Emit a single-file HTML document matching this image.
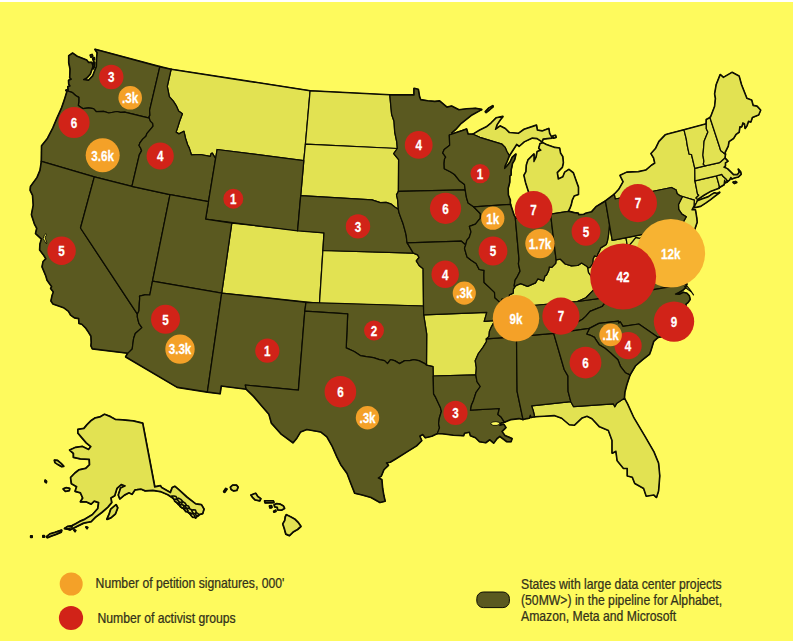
<!DOCTYPE html>
<html><head><meta charset="utf-8"><title>Map</title>
<style>
html,body{margin:0;padding:0;background:#fff;}
body{width:793px;height:641px;overflow:hidden;position:relative;font-family:"Liberation Sans",sans-serif;}
#bg{position:absolute;left:0;top:2px;width:793px;height:639px;background:#FEFA5D;}
svg{position:absolute;left:0;top:0;}
.n{font-family:"Liberation Sans",sans-serif;font-weight:bold;fill:#fff;stroke:#fff;stroke-width:0.25px;}
.lt{font-family:"Liberation Sans",sans-serif;font-size:13.8px;fill:#33311a;stroke:#33311a;stroke-width:0.25px;}
</style></head><body>
<div id="bg"></div>
<svg width="793" height="641" viewBox="0 0 793 641">
<g fill="#0c0c02" stroke="#0c0c02" stroke-width="2.0" stroke-linejoin="round">
<path d="M215.6,158.6L212.3,153.2L211.1,153.7L210.3,156.4L200.4,154.5L191.4,154.8L189.2,147.9L187.6,144.8L185.6,138.5L183.9,131.2L178.9,133.9L176.1,132.1L177.8,127.1L179.6,121.2L182.4,113.7L178.6,111.1L176.5,106.2L173.3,101.1L169.3,96.6L167.3,86.4L171.1,69.4L310.1,90.9L305.4,144.2L303.8,160.6L217.1,149.5Z"/>
<path d="M231.8,223.2L324.0,232.9L319.5,303.4L221.7,293.1Z"/>
<path d="M310.1,90.9L389.8,95.0L390.6,103.7L391.6,114.2L394.0,121.2L394.7,132.0L396.8,142.2L397.3,148.5L305.4,144.2Z"/>
<path d="M305.4,144.2L397.3,148.5L393.7,153.6L398.6,159.7L398.4,191.4L396.5,194.9L397.7,200.2L398.3,209.2L395.1,207.2L391.3,204.2L386.1,202.4L380.3,202.6L372.0,199.8L300.7,195.7L303.8,160.6Z"/>
<path d="M322.9,250.5L413.4,253.2L417.6,254.9L419.0,257.5L416.3,260.9L419.1,265.5L423.1,268.8L423.5,306.0L319.5,303.4Z"/>
<path d="M423.7,314.9L486.8,312.4L484.2,321.4L493.7,320.7L493.8,322.5L491.3,327.1L489.4,331.6L489.0,336.4L486.3,338.9L486.5,341.5L482.8,347.6L478.4,353.5L475.2,360.7L476.3,367.7L475.8,374.8L433.2,376.0L433.0,366.7L426.5,365.2L426.7,334.2Z"/>
<path d="M500.5,302.9L502.0,298.9L505.9,299.5L509.1,300.1L509.4,294.8L513.2,293.2L513.4,289.1L514.6,287.2L516.3,285.3L520.7,283.7L527.5,286.4L535.5,282.9L537.9,278.8L543.6,280.8L545.0,275.8L546.5,275.1L548.7,270.4L549.3,267.0L551.8,267.4L555.7,263.4L556.1,259.8L560.4,259.2L565.2,264.0L571.4,265.8L577.8,265.5L581.6,263.0L587.1,266.6L587.9,267.9L588.5,272.3L591.7,276.8L593.9,279.9L598.8,281.7L596.1,287.4L591.2,292.4L585.9,297.7L577.5,301.5L515.8,307.0L516.3,310.1L495.5,311.8L498.6,309.8Z"/>
<path d="M609.5,224.4L612.2,240.4L626.0,238.0L627.6,247.1L632.6,241.3L635.8,237.4L640.3,238.4L643.4,235.1L648.1,235.9L650.7,240.4L650.0,244.0L642.0,239.8L637.3,253.0L633.4,258.9L627.4,258.4L626.3,264.0L621.9,278.6L614.5,281.3L609.7,284.7L603.7,287.0L598.8,281.7L593.9,279.9L591.7,276.8L588.5,272.3L587.9,267.9L587.9,267.9L589.9,267.3L592.8,263.6L593.0,259.3L594.4,255.9L597.7,256.6L597.6,254.3L599.6,250.6L600.7,247.9L606.3,244.5L607.5,240.7L608.5,234.8L609.0,229.5Z"/>
<path d="M534.6,416.6L544.1,416.1L554.2,415.4L561.8,418.1L569.4,424.6L574.4,425.0L582.0,417.8L587.0,416.1L592.1,418.6L599.6,426.7L608.5,430.4L612.2,440.5L612.2,453.1L616.0,451.1L617.3,460.7L623.6,468.3L627.4,468.3L627.4,475.8L632.4,477.1L634.9,483.4L643.8,488.4L646.3,496.0L653.8,494.8L656.4,497.3L658.4,491.0L659.6,475.8L658.4,463.2L653.8,451.9L645.0,436.7L633.7,417.8L627.4,404.0L624.3,398.3L616.5,403.6L614.8,406.8L613.3,403.8L573.6,406.7L570.8,401.7L531.6,405.9L533.2,410.5Z"/>
<path d="M524.3,216.1L527.9,209.7L530.1,204.1L530.5,197.5L528.0,189.6L525.7,182.4L524.1,175.3L526.1,171.7L526.5,165.0L528.1,160.0L533.9,154.1L533.9,161.7L536.2,157.3L537.3,151.6L541.0,150.2L538.9,148.2L540.2,143.6L542.8,142.8L546.3,144.6L554.8,147.6L559.5,148.2L560.4,153.2L562.6,156.6L563.2,162.7L562.2,167.3L557.1,172.5L558.2,179.1L562.9,177.0L564.8,172.3L568.9,169.6L573.2,172.9L575.9,180.5L578.3,187.2L578.3,194.4L574.0,195.9L572.0,200.3L571.2,204.3L569.8,208.1L568.2,211.3L550.6,214.2Z"/>
<path d="M473.0,134.3L479.8,130.2L486.4,127.0L491.3,122.9L496.2,118.0L502.8,116.6L500.3,119.6L497.0,124.5L495.4,129.4L500.3,126.1L505.2,128.6L509.3,132.7L518.4,133.5L524.1,129.4L536.4,125.3L537.2,130.2L542.1,131.1L548.7,128.6L549.5,133.5L552.0,137.9L543.0,138.9L542.1,141.7L537.2,138.4L532.3,137.9L524.1,141.7L519.2,146.1L516.7,144.2L513.0,149.9L509.3,155.6L506.9,151.5L505.2,147.4L502.0,144.2L491.3,140.9L479.8,137.3Z"/>
<path d="M615.2,199.0L614.3,194.4L618.9,189.4L623.3,181.7L620.2,175.5L626.8,172.3L638.4,171.8L645.9,170.2L651.5,165.4L654.9,163.2L653.8,158.1L651.1,153.6L655.6,148.6L659.1,141.5L665.3,135.0L667.7,134.1L684.0,129.9L686.2,138.6L687.3,145.6L689.1,154.2L691.5,154.5L694.8,168.3L694.9,181.0L697.5,194.0L698.8,195.3L696.0,198.0L697.5,199.4L696.4,203.3L694.0,205.7L694.3,200.2L682.5,196.5L679.6,195.6L677.0,193.5L676.2,190.0L671.5,187.5Z"/>
<path d="M694.9,205.7L697.4,200.9L702.5,198.9L708.5,196.8L712.1,194.3L714.6,192.9L717.1,193.6L719.6,192.4L714.6,196.3L710.5,199.4L705.5,202.9L700.5,206.2L694.4,207.6Z"/>
<path d="M733.2,182.2L735.4,181.6L736.6,182.4L734.4,183.4Z"/>
<path d="M682.5,196.5L694.3,200.2L694.0,205.7L691.9,209.9L695.3,210.0L696.6,217.8L697.0,222.3L694.4,230.0L689.4,239.0L686.7,234.7L681.1,231.5L678.5,229.4L679.4,225.5L682.8,222.9L686.3,216.7L681.9,214.1L678.7,209.4L678.5,204.5Z"/>
<path d="M674.9,228.0L679.4,225.5L678.5,229.4L681.7,234.1L687.6,241.8L689.7,247.6L681.0,249.5Z"/>
<path d="M626.0,238.0L674.9,228.0L681.0,249.5L689.7,247.6L688.8,255.5L683.6,258.1L679.6,252.7L673.7,248.6L673.5,241.4L673.1,233.3L670.9,235.6L668.5,240.7L669.3,247.7L672.2,254.3L675.9,260.9L665.8,257.5L660.5,255.9L661.5,250.3L661.7,247.5L659.0,245.0L654.4,243.3L650.7,240.4L648.1,235.9L643.4,235.1L640.3,238.4L635.8,237.4L632.6,241.3L627.6,247.1Z"/>
<path d="M695.0,180.9L716.5,175.8L719.4,186.4L719.0,188.0L711.0,191.0L703.9,195.1L697.5,199.4L696.0,198.0L698.8,195.3L697.5,194.0Z"/>
<path d="M716.5,175.8L721.8,174.4L723.0,176.3L726.6,179.5L727.2,181.6L725.6,182.6L724.6,180.2L724.0,184.6L719.0,187.6L719.4,186.4Z"/>
<path d="M694.8,168.3L705.1,165.9L719.6,162.6L720.7,161.7L724.8,158.0L727.8,161.2L725.3,162.7L725.3,165.7L723.8,167.2L727.3,168.8L730.4,171.8L733.4,174.8L737.4,174.8L739.4,172.3L738.4,169.3L740.5,171.8L741.0,174.3L738.4,176.8L734.4,177.8L731.9,178.9L730.9,177.3L729.4,179.9L727.2,181.6L726.6,179.5L723.0,176.3L721.8,174.4L716.5,175.8L695.0,180.9Z"/>
<path d="M684.0,129.9L706.3,124.0L706.3,128.8L707.9,132.0L704.1,141.2L703.6,147.7L702.9,155.2L703.9,161.3L703.3,164.2L705.1,165.9L694.8,168.3L691.5,154.5L689.1,154.2L687.3,145.6L686.2,138.6Z"/>
<path d="M706.3,124.0L706.4,119.6L710.0,117.7L719.5,146.7L720.6,150.4L725.3,154.2L724.8,158.0L720.7,161.7L719.6,162.6L705.1,165.9L703.3,164.2L703.9,161.3L702.9,155.2L703.6,147.7L704.1,141.2L707.9,132.0L706.3,128.8Z"/>
<path d="M725.3,154.2L720.6,150.4L719.5,146.7L710.0,117.7L710.9,116.5L714.8,106.3L715.6,98.5L714.8,93.9L716.4,84.5L720.3,74.7L723.4,77.5L732.0,72.5L739.0,76.2L741.3,84.5L746.8,98.5L751.5,100.1L753.0,105.6L756.9,106.3L760.5,110.2L758.5,114.9L752.3,117.3L750.7,121.9L748.4,121.2L746.8,125.8L745.2,128.2L744.6,123.8L742.9,122.7L741.6,126.8L739.8,126.6L739.0,132.1L736.0,134.2L733.5,138.3L728.9,141.4L728.1,146.1L725.0,152.4Z"/>
<path d="M142.6,423.2L154.7,487.0L160.4,485.8L161.6,487.7L170.4,492.7L172.3,487.7L174.9,486.4L179.3,490.2L186.8,497.1L195.7,504.0L201.3,504.7L203.9,509.1L202.6,513.5L198.2,514.8L195.7,517.9L190.6,514.1L184.3,509.1L178.0,504.0L173.6,498.4L167.9,494.6L160.4,491.4L152.8,490.2L145.2,490.8L140.8,488.9L137.0,489.5L135.0,489.7L132.0,494.2L129.0,492.7L124.4,495.0L119.9,498.8L118.4,495.0L120.6,488.2L125.2,485.9L121.4,484.4L116.9,488.2L114.6,495.7L110.8,498.0L111.6,502.5L107.8,507.1L101.7,512.4L95.7,516.9L91.1,521.5L83.6,523.0L77.5,526.0L69.9,529.8L65.4,528.3L69.9,526.8L74.5,524.5L79.8,521.5L85.1,519.2L92.6,514.6L97.9,508.6L98.7,502.5L94.2,501.0L91.1,504.0L86.6,501.8L80.5,501.8L82.8,498.0L80.5,492.7L75.2,491.2L76.7,486.6L71.5,483.6L70.7,477.6L75.0,473.1L78.8,470.1L85.6,468.6L89.6,464.8L89.3,459.2L80.3,458.7L73.5,457.2L73.5,453.4L69.7,450.1L75.7,447.4L82.5,446.6L88.6,449.6L90.9,446.6L86.3,442.8L81.8,437.5L78.0,433.0L78.0,429.5L84.0,428.5L87.1,424.7L90.9,420.9L95.4,417.9L99.9,417.1L104.5,414.4L110.5,416.8L115.1,419.4L122.6,420.1L133.2,420.9Z"/>
<path d="M107.0,519.2L109.3,513.9L110.8,509.3L116.1,504.8L117.6,507.8L115.3,513.9L110.8,517.7Z"/>
<path d="M54.5,460.2L57.5,460.6L61.0,463.5L63.6,466.3L61.5,466.5L58.0,464.5L55.0,462.5Z"/>
<path d="M63.3,489.0L66.0,487.8L69.6,488.6L69.2,490.6L65.5,491.2Z"/>
<path d="M64.6,528.6L68.0,526.4L72.2,526.0L72.0,527.6L68.0,528.8Z"/>
<path d="M46.5,536.8L50.0,534.0L55.0,532.5L61.6,530.3L61.2,532.0L56.0,534.3L51.0,536.0L47.5,537.6Z"/>
<path d="M43.0,535.8L44.2,535.8L44.2,537.0L43.0,537.0Z"/>
<path d="M30.8,536.0L32.0,536.0L32.0,537.2L30.8,537.2Z"/>
<path d="M45.2,480.3L46.4,481.3L46.2,482.6L45.0,481.6Z"/>
<path d="M74.0,530.0L75.6,530.4L75.0,531.4Z"/>
<path d="M86.0,527.0L87.6,527.4L87.0,528.4Z"/>
<path d="M286.4,514.8L290.5,516.8L295.0,519.4L298.0,522.4L300.8,526.4L297.5,529.4L293.0,532.0L289.4,535.5L285.9,534.0L284.4,528.4L282.9,523.9L284.9,520.4L285.4,516.8Z"/>
<path d="M274.3,504.7L276.8,503.7L279.9,504.2L283.4,506.2L284.4,508.3L281.4,510.1L277.8,509.8L277.3,507.2L274.8,506.7Z"/>
<path d="M251.1,495.1L255.6,493.4L257.7,496.6L260.7,498.7L259.7,500.7L255.1,499.7L252.6,497.2Z"/>
<path d="M264.7,501.0L273.3,501.0L273.8,502.4L265.2,502.7Z"/>
<path d="M269.6,506.0L271.4,505.8L271.8,507.4L270.0,507.8Z"/>
<path d="M273.8,511.4L275.6,510.4L275.8,511.4L274.0,512.0Z"/>
<path d="M230.5,487.2L232.7,485.2L236.4,485.2L238.0,487.2L236.7,490.3L233.7,490.8L231.2,489.3Z"/>
<path d="M223.8,491.6L225.8,488.6L226.8,489.2L224.6,492.2Z"/>
<path d="M485.4,111.6L489.0,108.0L492.8,105.8L493.0,106.8L489.6,109.6L486.0,112.4Z"/>
<path d="M553.0,136.0L555.4,135.4L556.0,137.4L553.6,138.0Z"/>
<path d="M176.7,499.9L174.8,500.0L173.1,498.1L171.8,496.0L173.9,496.1L176.1,496.6L177.2,498.6Z"/>
<path d="M179.7,503.8L177.3,502.7L174.8,501.2L174.7,499.7L175.7,499.0L178.1,500.3L179.4,502.2Z"/>
<path d="M181.5,502.0L179.8,502.4L178.1,500.4L177.2,498.6L178.6,498.1L180.8,499.4L182.7,501.3Z"/>
<path d="M185.9,506.2L183.8,505.6L181.6,504.4L182.0,502.9L182.8,501.7L185.0,503.0L186.2,504.7Z"/>
<path d="M184.2,508.4L182.1,507.8L180.3,506.4L179.6,504.7L181.2,504.6L183.3,505.2L184.0,506.9Z"/>
<path d="M188.9,508.8L187.2,509.0L185.8,507.3L184.8,505.6L186.6,505.5L188.4,505.9L189.4,507.7Z"/>
<path d="M192.8,514.1L189.8,512.8L186.7,511.0L186.8,509.0L188.0,508.0L191.1,509.5L192.7,511.9Z"/>
<path d="M195.8,513.4L193.8,513.4L192.4,511.9L191.6,510.0L193.5,509.8L195.5,510.0L196.1,511.9Z"/>
<path d="M194.2,516.9L192.8,517.2L191.2,515.4L190.2,513.7L191.7,513.4L193.6,514.4L195.2,516.2Z"/>
<path d="M187.2,511.1L186.0,511.5L184.8,510.1L184.3,508.8L185.4,508.3L186.9,509.1L188.1,510.4Z"/>
<path d="M198.3,515.7L196.9,515.6L195.5,514.7L195.8,513.5L196.5,512.5L197.9,513.5L198.9,514.7Z"/>
<path d="M66.2,90.3L68.3,91.1L68.0,86.7L70.2,86.0L68.9,84.1L68.7,80.4L71.4,79.1L69.9,77.8L70.2,69.0L68.9,62.7L68.9,55.8L72.7,53.2L77.1,56.4L86.6,60.2L88.5,62.6L91.6,62.4L93.0,66.0L91.6,70.0L90.2,74.0L86.8,77.8L83.6,79.6L88.6,80.4L92.8,76.0L94.8,70.8L96.5,66.5L96.6,62.0L96.8,57.7L97.3,52.6L95.1,49.4L159.8,66.8L149.6,110.4L150.0,115.2L149.1,116.6L149.3,118.1L124.7,112.1L120.6,112.3L117.0,111.5L108.9,113.0L103.6,111.3L96.4,111.7L93.5,108.6L88.5,107.9L83.1,108.7L78.3,105.5L78.8,101.6L78.8,97.4L75.6,95.5L72.6,92.7L66.2,90.3Z"/>
<path d="M41.5,161.3L41.6,153.0L41.7,145.8L47.7,138.3L53.0,128.0L57.1,118.2L61.5,108.5L64.4,100.2L67.0,91.9L66.2,90.3L72.6,92.7L75.6,95.5L78.8,97.4L78.8,101.6L78.3,105.5L83.1,108.7L88.5,107.9L93.5,108.6L96.4,111.7L103.6,111.3L108.9,113.0L117.0,111.5L120.6,112.3L124.7,112.1L149.3,118.1L150.4,121.1L152.7,123.4L153.1,126.2L149.6,130.4L146.8,133.7L145.9,136.2L142.7,139.1L139.9,142.9L139.0,145.5L140.6,148.0L141.6,150.6L139.3,154.9L131.9,186.3L94.3,176.8Z"/>
<path d="M41.5,161.3L40.2,170.2L37.2,177.5L30.6,186.7L30.3,190.2L32.7,195.2L33.4,205.1L31.6,214.7L34.6,224.0L36.9,228.3L35.7,233.5L41.6,239.0L40.1,244.1L39.8,249.9L44.0,255.4L46.0,258.7L43.2,261.6L42.2,266.8L46.1,276.2L47.2,280.2L51.8,286.6L50.8,288.5L53.5,292.0L52.3,295.3L51.1,300.9L53.0,303.8L63.6,307.5L68.6,311.2L70.7,314.9L74.5,317.7L78.8,318.4L79.1,323.4L81.9,324.1L85.6,327.7L87.8,330.8L91.1,336.2L91.4,342.6L91.1,345.8L92.4,348.7L128.0,353.1L132.2,349.0L133.6,338.5L135.3,333.5L141.9,327.6L138.9,323.4L137.3,316.8L137.4,314.1L80.5,228.0L94.3,176.8Z"/>
<path d="M94.3,176.8L80.5,228.0L137.4,314.1L139.0,310.8L139.3,303.7L139.7,298.4L139.5,296.2L144.7,294.9L149.8,295.0L152.5,281.2L170.0,194.6L131.9,186.3Z"/>
<path d="M159.8,66.8L171.1,69.4L167.3,86.4L169.3,96.6L173.3,101.1L176.5,106.2L178.6,111.1L182.4,113.7L179.6,121.2L177.8,127.1L176.1,132.1L178.9,133.9L183.9,131.2L185.6,138.5L187.6,144.8L189.2,147.9L191.4,154.8L200.4,154.5L210.3,156.4L211.1,153.7L212.3,153.2L215.6,158.6L208.5,201.7L170.0,194.6L131.9,186.3L139.3,154.9L141.6,150.6L140.6,148.0L139.0,145.5L139.9,142.9L142.7,139.1L145.9,136.2L146.8,133.7L149.6,130.4L153.1,126.2L152.7,123.4L150.4,121.1L149.3,118.1L149.1,116.6L150.0,115.2L149.6,110.4Z"/>
<path d="M217.1,149.5L303.8,160.6L297.6,230.8L205.6,219.1Z"/>
<path d="M170.0,194.6L208.5,201.7L205.6,219.1L231.8,223.2L221.7,293.1L152.5,281.2Z"/>
<path d="M152.5,281.2L221.7,293.1L207.4,391.9L177.3,387.2L125.8,356.8L128.0,353.1L132.2,349.0L133.6,338.5L135.3,333.5L141.9,327.6L138.9,323.4L137.3,316.8L137.4,314.1L139.0,310.8L139.3,303.7L139.7,298.4L139.5,296.2L144.7,294.9L149.8,295.0Z"/>
<path d="M221.7,293.1L306.0,302.4L304.8,311.2L298.4,390.1L245.3,385.0L246.2,389.0L221.1,385.8L220.0,393.6L207.4,391.9Z"/>
<path d="M300.7,195.7L372.0,199.8L380.3,202.6L386.1,202.4L391.3,204.2L395.1,207.2L398.3,209.2L399.0,212.6L400.9,217.9L402.9,223.2L405.1,230.9L406.2,235.5L406.8,240.8L407.2,242.9L410.2,247.9L413.4,253.2L322.9,250.5L324.0,232.9L297.6,230.8Z"/>
<path d="M306.0,302.4L423.5,306.0L423.7,314.9L426.7,334.2L426.5,365.2L424.8,363.6L418.8,360.6L413.7,359.6L409.7,360.6L404.7,360.6L399.6,363.6L394.6,360.6L390.5,359.6L387.5,363.6L384.5,360.6L379.4,359.6L373.4,357.6L366.3,356.6L360.3,355.6L354.2,351.5L346.2,347.9L347.7,313.8L304.8,311.2Z"/>
<path d="M304.8,311.2L347.7,313.8L346.2,347.9L354.2,351.5L360.3,355.6L366.3,356.6L373.4,357.6L379.4,359.6L384.5,360.6L387.5,363.6L390.5,359.6L394.6,360.6L399.6,363.6L404.7,360.6L409.7,360.6L413.7,359.6L418.8,360.6L424.8,363.6L426.5,365.2L433.0,366.7L433.2,376.0L433.6,393.9L435.7,397.4L440.5,407.8L441.4,411.3L439.3,418.3L438.6,423.6L439.5,427.9L437.4,433.4L431.7,436.1L425.4,437.6L422.8,434.3L419.6,436.1L421.6,440.6L416.5,445.7L406.5,452.0L396.4,458.3L390.1,462.1L386.3,462.8L388.3,465.3L383.8,469.6L381.2,475.9L378.2,477.9L381.7,479.7L382.5,488.5L383.8,496.1L385.0,501.1L380.0,502.4L371.1,497.4L362.3,494.8L354.8,493.1L351.0,483.5L347.2,473.4L340.9,464.6L337.1,457.0L332.1,445.7L327.0,436.8L320.7,431.8L306.8,429.3L300.5,431.8L296.7,438.1L293.0,442.6L281.6,434.3L271.5,423.0L269.0,414.1L261.4,405.3L253.9,396.5L246.2,389.0L245.3,385.0L298.4,390.1Z"/>
<path d="M389.8,95.0L414.1,95.1L414.1,88.5L418.2,89.5L419.4,96.7L420.6,99.8L427.7,100.9L434.8,101.6L439.5,101.1L446.9,107.3L451.6,106.2L458.9,109.9L466.6,109.0L475.5,108.4L481.6,109.6L480.3,110.2L471.9,114.8L461.2,123.2L456.5,128.4L451.5,133.0L452.5,134.0L449.3,135.0L449.7,145.3L444.2,149.4L442.7,152.9L445.7,157.2L444.5,159.0L444.1,163.4L444.3,168.7L450.7,172.0L454.5,174.5L459.2,180.4L464.5,184.6L465.2,189.8L398.4,191.4L398.6,159.7L393.7,153.6L397.3,148.5L396.8,142.2L394.7,132.0L394.0,121.2L391.6,114.2L390.6,103.7Z"/>
<path d="M398.4,191.4L465.2,189.8L465.6,192.4L466.5,197.7L468.1,202.9L473.6,206.8L480.4,213.7L480.3,218.3L478.9,219.9L475.4,224.2L469.4,226.3L471.0,231.9L469.3,237.3L466.8,240.4L465.7,244.9L461.1,241.1L407.2,242.9L406.8,240.8L406.2,235.5L405.1,230.9L402.9,223.2L400.9,217.9L399.0,212.6L398.3,209.2L397.7,200.2L396.5,194.9Z"/>
<path d="M407.2,242.9L461.1,241.1L465.7,244.9L464.5,248.2L465.8,252.9L467.0,256.9L471.2,260.2L476.1,263.5L479.2,269.5L484.1,270.4L483.9,274.9L484.1,282.5L489.3,287.4L494.5,292.4L494.9,297.7L500.5,302.9L498.6,309.8L495.5,311.8L494.8,315.4L493.7,320.7L484.2,321.4L486.8,312.4L423.7,314.9L423.5,306.0L423.1,268.8L419.1,265.5L416.3,260.9L419.0,257.5L417.6,254.9L413.4,253.2L410.2,247.9L407.2,242.9Z"/>
<path d="M433.2,376.0L475.8,374.8L477.0,381.7L480.3,386.5L476.1,392.3L473.5,400.4L471.5,404.9L470.5,410.2L499.3,408.5L497.9,414.4L501.1,417.1L504.4,422.1L500.8,422.9L499.8,425.5L503.8,424.5L505.8,427.5L501.8,431.5L504.8,435.6L511.9,438.6L510.9,441.6L506.9,441.6L499.8,436.2L496.8,438.6L493.7,443.0L489.7,439.6L485.7,442.6L479.6,441.6L475.6,437.6L470.5,435.6L469.5,432.1L464.5,433.0L463.5,435.6L453.4,435.0L442.3,433.6L437.4,433.4L439.5,427.9L438.6,423.6L439.3,418.3L441.4,411.3L440.5,407.8L435.7,397.4L433.6,393.9L433.2,376.0Z"/>
<path d="M486.3,338.9L516.5,336.7L517.1,391.3L523.0,419.4L519.0,418.4L510.9,419.4L504.4,422.1L501.1,417.1L497.9,414.4L499.3,408.5L470.5,410.2L471.5,404.9L473.5,400.4L476.1,392.3L480.3,386.5L477.0,381.7L475.8,374.8L476.3,367.7L475.2,360.7L478.4,353.5L482.8,347.6L486.5,341.5Z"/>
<path d="M516.5,336.7L553.7,333.3L564.2,369.5L568.0,376.1L568.0,384.4L568.1,391.4L570.8,401.7L531.6,405.9L533.2,410.5L534.6,416.6L531.1,417.4L530.3,415.2L529.3,418.0L527.0,418.4L523.0,419.4L517.1,391.3Z"/>
<path d="M493.7,320.7L494.8,315.4L495.5,311.8L516.3,310.1L515.8,307.0L577.5,301.5L605.4,297.6L605.8,301.8L602.2,306.5L596.8,308.6L590.0,311.4L585.7,316.4L582.5,319.2L575.8,323.1L575.3,325.5L572.1,330.9L553.7,333.3L516.5,336.7L486.3,338.9L489.0,336.4L489.4,331.6L491.3,327.1L493.8,322.5Z"/>
<path d="M452.5,134.0L462.3,130.7L466.5,129.1L468.0,134.2L473.0,134.3L479.8,137.3L491.3,140.9L502.0,144.2L505.2,147.4L506.9,151.5L509.3,155.6L507.1,161.2L505.0,165.8L504.6,168.5L507.5,165.6L510.3,161.8L512.4,157.2L515.8,154.2L514.5,159.7L512.3,163.4L511.7,167.0L511.0,169.7L510.9,175.0L509.7,176.0L509.6,182.2L508.0,188.5L508.2,195.1L510.2,200.2L510.1,202.9L510.4,204.4L473.6,206.8L468.1,202.9L466.5,197.7L465.6,192.4L465.2,189.8L464.5,184.6L459.2,180.4L454.5,174.5L450.7,172.0L444.3,168.7L444.1,163.4L444.5,159.0L445.7,157.2L442.7,152.9L444.2,149.4L449.7,145.3L449.3,135.0Z"/>
<path d="M473.6,206.8L510.4,204.4L514.0,215.5L515.3,217.8L519.0,259.3L518.4,263.8L520.1,271.1L517.5,276.3L515.1,280.1L514.2,285.5L514.6,287.2L513.4,289.1L513.2,293.2L509.4,294.8L509.1,300.1L505.9,299.5L502.0,298.9L500.5,302.9L494.9,297.7L494.5,292.4L489.3,287.4L484.1,282.5L483.9,274.9L484.1,270.4L479.2,269.5L476.1,263.5L471.2,260.2L467.0,256.9L465.8,252.9L464.5,248.2L465.7,244.9L466.8,240.4L469.3,237.3L471.0,231.9L469.4,226.3L475.4,224.2L478.9,219.9L480.3,218.3L480.4,213.7Z"/>
<path d="M515.3,217.8L519.6,218.8L524.3,216.1L550.6,214.2L556.1,259.8L555.7,263.4L551.8,267.4L549.3,267.0L548.7,270.4L546.5,275.1L545.0,275.8L543.6,280.8L537.9,278.8L535.5,282.9L527.5,286.4L520.7,283.7L516.3,285.3L514.6,287.2L514.2,285.5L515.1,280.1L517.5,276.3L520.1,271.1L518.4,263.8L519.0,259.3Z"/>
<path d="M550.6,214.2L568.2,211.3L574.4,212.8L578.2,213.3L578.7,214.8L584.0,214.4L585.4,213.5L591.6,212.0L596.1,206.8L602.1,203.1L605.5,201.1L609.5,224.4L609.0,229.5L608.5,234.8L607.5,240.7L606.3,244.5L600.7,247.9L599.6,250.6L597.6,254.3L597.7,256.6L594.4,255.9L593.0,259.3L592.8,263.6L589.9,267.3L587.9,267.9L587.1,266.6L581.6,263.0L577.8,265.5L571.4,265.8L565.2,264.0L560.4,259.2L556.1,259.8Z"/>
<path d="M577.5,301.5L605.4,297.6L686.6,284.1L682.8,276.8L678.4,276.5L676.5,267.8L675.9,260.9L665.8,257.5L660.5,255.9L661.5,250.3L661.7,247.5L659.0,245.0L654.4,243.3L650.7,240.4L650.0,244.0L642.0,239.8L637.3,253.0L633.4,258.9L627.4,258.4L626.3,264.0L621.9,278.6L614.5,281.3L609.7,284.7L603.7,287.0L598.8,281.7L596.1,287.4L591.2,292.4L585.9,297.7Z"/>
<path d="M682.8,273.3L683.6,258.1L688.8,255.5L686.1,265.7Z"/>
<path d="M572.1,330.9L575.3,325.5L575.8,323.1L582.5,319.2L585.7,316.4L590.0,311.4L596.8,308.6L602.2,306.5L605.8,301.8L605.4,297.6L686.6,284.1L685.4,287.8L682.4,290.4L678.9,292.4L675.5,294.1L679.4,294.4L683.4,292.4L686.9,293.4L689.2,295.9L690.0,299.4L687.9,302.5L685.9,304.0L684.0,318.6L672.3,322.9L667.6,329.2L666.4,335.7L658.0,337.2L638.8,324.0L623.0,326.4L620.2,321.8L618.8,323.1L618.5,321.2L599.0,323.4L589.4,328.4Z"/>
<path d="M589.4,328.4L599.0,323.4L618.5,321.2L618.8,323.1L620.2,321.8L623.0,326.4L638.8,324.0L658.0,337.2L653.6,341.3L650.8,350.4L649.3,354.3L642.0,360.0L635.5,365.6L631.9,371.6L629.9,374.9L625.3,372.7L620.5,366.4L617.9,359.7L610.1,352.5L605.0,348.3L599.2,344.7L595.5,339.1L594.5,337.4L590.5,335.3L586.7,334.1Z"/>
<path d="M553.7,333.3L572.1,330.9L589.4,328.4L586.7,334.1L590.5,335.3L594.5,337.4L595.5,339.1L599.2,344.7L605.0,348.3L610.1,352.5L617.9,359.7L620.5,366.4L625.3,372.7L629.9,374.9L626.6,384.9L624.7,392.3L624.3,398.3L616.5,403.6L614.8,406.8L613.3,403.8L573.6,406.7L570.8,401.7L568.1,391.4L568.0,384.4L568.0,376.1L564.2,369.5Z"/>
<path d="M605.5,201.1L610.4,197.2L614.3,194.4L615.2,199.0L671.5,187.5L676.2,190.0L677.0,193.5L679.6,195.6L682.5,196.5L678.5,204.5L678.7,209.4L681.9,214.1L686.3,216.7L682.8,222.9L679.4,225.5L674.9,228.0L612.2,240.4Z"/>
<path d="M90.4,55.2L92.0,54.6L92.6,56.2L91.0,57.0Z"/>
<path d="M92.8,58.2L94.2,57.8L94.4,59.6L93.2,60.0Z"/>
<path d="M93.6,61.8L94.6,62.6L94.4,66.2L93.4,68.6L93.0,65.6Z"/>
</g>
<g fill="#E2E252" stroke="#0c0c02" stroke-width="1.25" stroke-linejoin="round">
<path d="M215.6,158.6L212.3,153.2L211.1,153.7L210.3,156.4L200.4,154.5L191.4,154.8L189.2,147.9L187.6,144.8L185.6,138.5L183.9,131.2L178.9,133.9L176.1,132.1L177.8,127.1L179.6,121.2L182.4,113.7L178.6,111.1L176.5,106.2L173.3,101.1L169.3,96.6L167.3,86.4L171.1,69.4L310.1,90.9L305.4,144.2L303.8,160.6L217.1,149.5Z"/>
<path d="M231.8,223.2L324.0,232.9L319.5,303.4L221.7,293.1Z"/>
<path d="M310.1,90.9L389.8,95.0L390.6,103.7L391.6,114.2L394.0,121.2L394.7,132.0L396.8,142.2L397.3,148.5L305.4,144.2Z"/>
<path d="M305.4,144.2L397.3,148.5L393.7,153.6L398.6,159.7L398.4,191.4L396.5,194.9L397.7,200.2L398.3,209.2L395.1,207.2L391.3,204.2L386.1,202.4L380.3,202.6L372.0,199.8L300.7,195.7L303.8,160.6Z"/>
<path d="M322.9,250.5L413.4,253.2L417.6,254.9L419.0,257.5L416.3,260.9L419.1,265.5L423.1,268.8L423.5,306.0L319.5,303.4Z"/>
<path d="M423.7,314.9L486.8,312.4L484.2,321.4L493.7,320.7L493.8,322.5L491.3,327.1L489.4,331.6L489.0,336.4L486.3,338.9L486.5,341.5L482.8,347.6L478.4,353.5L475.2,360.7L476.3,367.7L475.8,374.8L433.2,376.0L433.0,366.7L426.5,365.2L426.7,334.2Z"/>
<path d="M500.5,302.9L502.0,298.9L505.9,299.5L509.1,300.1L509.4,294.8L513.2,293.2L513.4,289.1L514.6,287.2L516.3,285.3L520.7,283.7L527.5,286.4L535.5,282.9L537.9,278.8L543.6,280.8L545.0,275.8L546.5,275.1L548.7,270.4L549.3,267.0L551.8,267.4L555.7,263.4L556.1,259.8L560.4,259.2L565.2,264.0L571.4,265.8L577.8,265.5L581.6,263.0L587.1,266.6L587.9,267.9L588.5,272.3L591.7,276.8L593.9,279.9L598.8,281.7L596.1,287.4L591.2,292.4L585.9,297.7L577.5,301.5L515.8,307.0L516.3,310.1L495.5,311.8L498.6,309.8Z"/>
<path d="M609.5,224.4L612.2,240.4L626.0,238.0L627.6,247.1L632.6,241.3L635.8,237.4L640.3,238.4L643.4,235.1L648.1,235.9L650.7,240.4L650.0,244.0L642.0,239.8L637.3,253.0L633.4,258.9L627.4,258.4L626.3,264.0L621.9,278.6L614.5,281.3L609.7,284.7L603.7,287.0L598.8,281.7L593.9,279.9L591.7,276.8L588.5,272.3L587.9,267.9L587.9,267.9L589.9,267.3L592.8,263.6L593.0,259.3L594.4,255.9L597.7,256.6L597.6,254.3L599.6,250.6L600.7,247.9L606.3,244.5L607.5,240.7L608.5,234.8L609.0,229.5Z"/>
<path d="M534.6,416.6L544.1,416.1L554.2,415.4L561.8,418.1L569.4,424.6L574.4,425.0L582.0,417.8L587.0,416.1L592.1,418.6L599.6,426.7L608.5,430.4L612.2,440.5L612.2,453.1L616.0,451.1L617.3,460.7L623.6,468.3L627.4,468.3L627.4,475.8L632.4,477.1L634.9,483.4L643.8,488.4L646.3,496.0L653.8,494.8L656.4,497.3L658.4,491.0L659.6,475.8L658.4,463.2L653.8,451.9L645.0,436.7L633.7,417.8L627.4,404.0L624.3,398.3L616.5,403.6L614.8,406.8L613.3,403.8L573.6,406.7L570.8,401.7L531.6,405.9L533.2,410.5Z"/>
<path d="M524.3,216.1L527.9,209.7L530.1,204.1L530.5,197.5L528.0,189.6L525.7,182.4L524.1,175.3L526.1,171.7L526.5,165.0L528.1,160.0L533.9,154.1L533.9,161.7L536.2,157.3L537.3,151.6L541.0,150.2L538.9,148.2L540.2,143.6L542.8,142.8L546.3,144.6L554.8,147.6L559.5,148.2L560.4,153.2L562.6,156.6L563.2,162.7L562.2,167.3L557.1,172.5L558.2,179.1L562.9,177.0L564.8,172.3L568.9,169.6L573.2,172.9L575.9,180.5L578.3,187.2L578.3,194.4L574.0,195.9L572.0,200.3L571.2,204.3L569.8,208.1L568.2,211.3L550.6,214.2Z"/>
<path d="M473.0,134.3L479.8,130.2L486.4,127.0L491.3,122.9L496.2,118.0L502.8,116.6L500.3,119.6L497.0,124.5L495.4,129.4L500.3,126.1L505.2,128.6L509.3,132.7L518.4,133.5L524.1,129.4L536.4,125.3L537.2,130.2L542.1,131.1L548.7,128.6L549.5,133.5L552.0,137.9L543.0,138.9L542.1,141.7L537.2,138.4L532.3,137.9L524.1,141.7L519.2,146.1L516.7,144.2L513.0,149.9L509.3,155.6L506.9,151.5L505.2,147.4L502.0,144.2L491.3,140.9L479.8,137.3Z"/>
<path d="M615.2,199.0L614.3,194.4L618.9,189.4L623.3,181.7L620.2,175.5L626.8,172.3L638.4,171.8L645.9,170.2L651.5,165.4L654.9,163.2L653.8,158.1L651.1,153.6L655.6,148.6L659.1,141.5L665.3,135.0L667.7,134.1L684.0,129.9L686.2,138.6L687.3,145.6L689.1,154.2L691.5,154.5L694.8,168.3L694.9,181.0L697.5,194.0L698.8,195.3L696.0,198.0L697.5,199.4L696.4,203.3L694.0,205.7L694.3,200.2L682.5,196.5L679.6,195.6L677.0,193.5L676.2,190.0L671.5,187.5Z"/>
<path d="M694.9,205.7L697.4,200.9L702.5,198.9L708.5,196.8L712.1,194.3L714.6,192.9L717.1,193.6L719.6,192.4L714.6,196.3L710.5,199.4L705.5,202.9L700.5,206.2L694.4,207.6Z"/>
<path d="M733.2,182.2L735.4,181.6L736.6,182.4L734.4,183.4Z"/>
<path d="M682.5,196.5L694.3,200.2L694.0,205.7L691.9,209.9L695.3,210.0L696.6,217.8L697.0,222.3L694.4,230.0L689.4,239.0L686.7,234.7L681.1,231.5L678.5,229.4L679.4,225.5L682.8,222.9L686.3,216.7L681.9,214.1L678.7,209.4L678.5,204.5Z"/>
<path d="M674.9,228.0L679.4,225.5L678.5,229.4L681.7,234.1L687.6,241.8L689.7,247.6L681.0,249.5Z"/>
<path d="M626.0,238.0L674.9,228.0L681.0,249.5L689.7,247.6L688.8,255.5L683.6,258.1L679.6,252.7L673.7,248.6L673.5,241.4L673.1,233.3L670.9,235.6L668.5,240.7L669.3,247.7L672.2,254.3L675.9,260.9L665.8,257.5L660.5,255.9L661.5,250.3L661.7,247.5L659.0,245.0L654.4,243.3L650.7,240.4L648.1,235.9L643.4,235.1L640.3,238.4L635.8,237.4L632.6,241.3L627.6,247.1Z"/>
<path d="M695.0,180.9L716.5,175.8L719.4,186.4L719.0,188.0L711.0,191.0L703.9,195.1L697.5,199.4L696.0,198.0L698.8,195.3L697.5,194.0Z"/>
<path d="M716.5,175.8L721.8,174.4L723.0,176.3L726.6,179.5L727.2,181.6L725.6,182.6L724.6,180.2L724.0,184.6L719.0,187.6L719.4,186.4Z"/>
<path d="M694.8,168.3L705.1,165.9L719.6,162.6L720.7,161.7L724.8,158.0L727.8,161.2L725.3,162.7L725.3,165.7L723.8,167.2L727.3,168.8L730.4,171.8L733.4,174.8L737.4,174.8L739.4,172.3L738.4,169.3L740.5,171.8L741.0,174.3L738.4,176.8L734.4,177.8L731.9,178.9L730.9,177.3L729.4,179.9L727.2,181.6L726.6,179.5L723.0,176.3L721.8,174.4L716.5,175.8L695.0,180.9Z"/>
<path d="M684.0,129.9L706.3,124.0L706.3,128.8L707.9,132.0L704.1,141.2L703.6,147.7L702.9,155.2L703.9,161.3L703.3,164.2L705.1,165.9L694.8,168.3L691.5,154.5L689.1,154.2L687.3,145.6L686.2,138.6Z"/>
<path d="M706.3,124.0L706.4,119.6L710.0,117.7L719.5,146.7L720.6,150.4L725.3,154.2L724.8,158.0L720.7,161.7L719.6,162.6L705.1,165.9L703.3,164.2L703.9,161.3L702.9,155.2L703.6,147.7L704.1,141.2L707.9,132.0L706.3,128.8Z"/>
<path d="M725.3,154.2L720.6,150.4L719.5,146.7L710.0,117.7L710.9,116.5L714.8,106.3L715.6,98.5L714.8,93.9L716.4,84.5L720.3,74.7L723.4,77.5L732.0,72.5L739.0,76.2L741.3,84.5L746.8,98.5L751.5,100.1L753.0,105.6L756.9,106.3L760.5,110.2L758.5,114.9L752.3,117.3L750.7,121.9L748.4,121.2L746.8,125.8L745.2,128.2L744.6,123.8L742.9,122.7L741.6,126.8L739.8,126.6L739.0,132.1L736.0,134.2L733.5,138.3L728.9,141.4L728.1,146.1L725.0,152.4Z"/>
<path d="M142.6,423.2L154.7,487.0L160.4,485.8L161.6,487.7L170.4,492.7L172.3,487.7L174.9,486.4L179.3,490.2L186.8,497.1L195.7,504.0L201.3,504.7L203.9,509.1L202.6,513.5L198.2,514.8L195.7,517.9L190.6,514.1L184.3,509.1L178.0,504.0L173.6,498.4L167.9,494.6L160.4,491.4L152.8,490.2L145.2,490.8L140.8,488.9L137.0,489.5L135.0,489.7L132.0,494.2L129.0,492.7L124.4,495.0L119.9,498.8L118.4,495.0L120.6,488.2L125.2,485.9L121.4,484.4L116.9,488.2L114.6,495.7L110.8,498.0L111.6,502.5L107.8,507.1L101.7,512.4L95.7,516.9L91.1,521.5L83.6,523.0L77.5,526.0L69.9,529.8L65.4,528.3L69.9,526.8L74.5,524.5L79.8,521.5L85.1,519.2L92.6,514.6L97.9,508.6L98.7,502.5L94.2,501.0L91.1,504.0L86.6,501.8L80.5,501.8L82.8,498.0L80.5,492.7L75.2,491.2L76.7,486.6L71.5,483.6L70.7,477.6L75.0,473.1L78.8,470.1L85.6,468.6L89.6,464.8L89.3,459.2L80.3,458.7L73.5,457.2L73.5,453.4L69.7,450.1L75.7,447.4L82.5,446.6L88.6,449.6L90.9,446.6L86.3,442.8L81.8,437.5L78.0,433.0L78.0,429.5L84.0,428.5L87.1,424.7L90.9,420.9L95.4,417.9L99.9,417.1L104.5,414.4L110.5,416.8L115.1,419.4L122.6,420.1L133.2,420.9Z" stroke-width="1.5"/>
<path d="M107.0,519.2L109.3,513.9L110.8,509.3L116.1,504.8L117.6,507.8L115.3,513.9L110.8,517.7Z" stroke-width="1.5"/>
<path d="M54.5,460.2L57.5,460.6L61.0,463.5L63.6,466.3L61.5,466.5L58.0,464.5L55.0,462.5Z" stroke-width="1.5"/>
<path d="M63.3,489.0L66.0,487.8L69.6,488.6L69.2,490.6L65.5,491.2Z" stroke-width="1.5"/>
<path d="M64.6,528.6L68.0,526.4L72.2,526.0L72.0,527.6L68.0,528.8Z" stroke-width="1.5"/>
<path d="M46.5,536.8L50.0,534.0L55.0,532.5L61.6,530.3L61.2,532.0L56.0,534.3L51.0,536.0L47.5,537.6Z" stroke-width="1.5"/>
<path d="M43.0,535.8L44.2,535.8L44.2,537.0L43.0,537.0Z" stroke-width="1.5"/>
<path d="M30.8,536.0L32.0,536.0L32.0,537.2L30.8,537.2Z" stroke-width="1.5"/>
<path d="M45.2,480.3L46.4,481.3L46.2,482.6L45.0,481.6Z" stroke-width="1.5"/>
<path d="M74.0,530.0L75.6,530.4L75.0,531.4Z" stroke-width="1.5"/>
<path d="M86.0,527.0L87.6,527.4L87.0,528.4Z" stroke-width="1.5"/>
<path d="M286.4,514.8L290.5,516.8L295.0,519.4L298.0,522.4L300.8,526.4L297.5,529.4L293.0,532.0L289.4,535.5L285.9,534.0L284.4,528.4L282.9,523.9L284.9,520.4L285.4,516.8Z" stroke-width="1.5"/>
<path d="M274.3,504.7L276.8,503.7L279.9,504.2L283.4,506.2L284.4,508.3L281.4,510.1L277.8,509.8L277.3,507.2L274.8,506.7Z" stroke-width="1.5"/>
<path d="M251.1,495.1L255.6,493.4L257.7,496.6L260.7,498.7L259.7,500.7L255.1,499.7L252.6,497.2Z" stroke-width="1.5"/>
<path d="M264.7,501.0L273.3,501.0L273.8,502.4L265.2,502.7Z" stroke-width="1.5"/>
<path d="M269.6,506.0L271.4,505.8L271.8,507.4L270.0,507.8Z" stroke-width="1.5"/>
<path d="M273.8,511.4L275.6,510.4L275.8,511.4L274.0,512.0Z" stroke-width="1.5"/>
<path d="M230.5,487.2L232.7,485.2L236.4,485.2L238.0,487.2L236.7,490.3L233.7,490.8L231.2,489.3Z" stroke-width="1.5"/>
<path d="M223.8,491.6L225.8,488.6L226.8,489.2L224.6,492.2Z" stroke-width="1.5"/>
<path d="M485.4,111.6L489.0,108.0L492.8,105.8L493.0,106.8L489.6,109.6L486.0,112.4Z"/>
<path d="M553.0,136.0L555.4,135.4L556.0,137.4L553.6,138.0Z"/>
<path d="M176.7,499.9L174.8,500.0L173.1,498.1L171.8,496.0L173.9,496.1L176.1,496.6L177.2,498.6Z" stroke-width="1.5"/>
<path d="M179.7,503.8L177.3,502.7L174.8,501.2L174.7,499.7L175.7,499.0L178.1,500.3L179.4,502.2Z" stroke-width="1.5"/>
<path d="M181.5,502.0L179.8,502.4L178.1,500.4L177.2,498.6L178.6,498.1L180.8,499.4L182.7,501.3Z" stroke-width="1.5"/>
<path d="M185.9,506.2L183.8,505.6L181.6,504.4L182.0,502.9L182.8,501.7L185.0,503.0L186.2,504.7Z" stroke-width="1.5"/>
<path d="M184.2,508.4L182.1,507.8L180.3,506.4L179.6,504.7L181.2,504.6L183.3,505.2L184.0,506.9Z" stroke-width="1.5"/>
<path d="M188.9,508.8L187.2,509.0L185.8,507.3L184.8,505.6L186.6,505.5L188.4,505.9L189.4,507.7Z" stroke-width="1.5"/>
<path d="M192.8,514.1L189.8,512.8L186.7,511.0L186.8,509.0L188.0,508.0L191.1,509.5L192.7,511.9Z" stroke-width="1.5"/>
<path d="M195.8,513.4L193.8,513.4L192.4,511.9L191.6,510.0L193.5,509.8L195.5,510.0L196.1,511.9Z" stroke-width="1.5"/>
<path d="M194.2,516.9L192.8,517.2L191.2,515.4L190.2,513.7L191.7,513.4L193.6,514.4L195.2,516.2Z" stroke-width="1.5"/>
<path d="M187.2,511.1L186.0,511.5L184.8,510.1L184.3,508.8L185.4,508.3L186.9,509.1L188.1,510.4Z" stroke-width="1.5"/>
<path d="M198.3,515.7L196.9,515.6L195.5,514.7L195.8,513.5L196.5,512.5L197.9,513.5L198.9,514.7Z" stroke-width="1.5"/>
</g>
<g fill="#5A5920" stroke="#0c0c02" stroke-width="1.25" stroke-linejoin="round">
<path d="M66.2,90.3L68.3,91.1L68.0,86.7L70.2,86.0L68.9,84.1L68.7,80.4L71.4,79.1L69.9,77.8L70.2,69.0L68.9,62.7L68.9,55.8L72.7,53.2L77.1,56.4L86.6,60.2L88.5,62.6L91.6,62.4L93.0,66.0L91.6,70.0L90.2,74.0L86.8,77.8L83.6,79.6L88.6,80.4L92.8,76.0L94.8,70.8L96.5,66.5L96.6,62.0L96.8,57.7L97.3,52.6L95.1,49.4L159.8,66.8L149.6,110.4L150.0,115.2L149.1,116.6L149.3,118.1L124.7,112.1L120.6,112.3L117.0,111.5L108.9,113.0L103.6,111.3L96.4,111.7L93.5,108.6L88.5,107.9L83.1,108.7L78.3,105.5L78.8,101.6L78.8,97.4L75.6,95.5L72.6,92.7L66.2,90.3Z"/>
<path d="M41.5,161.3L41.6,153.0L41.7,145.8L47.7,138.3L53.0,128.0L57.1,118.2L61.5,108.5L64.4,100.2L67.0,91.9L66.2,90.3L72.6,92.7L75.6,95.5L78.8,97.4L78.8,101.6L78.3,105.5L83.1,108.7L88.5,107.9L93.5,108.6L96.4,111.7L103.6,111.3L108.9,113.0L117.0,111.5L120.6,112.3L124.7,112.1L149.3,118.1L150.4,121.1L152.7,123.4L153.1,126.2L149.6,130.4L146.8,133.7L145.9,136.2L142.7,139.1L139.9,142.9L139.0,145.5L140.6,148.0L141.6,150.6L139.3,154.9L131.9,186.3L94.3,176.8Z"/>
<path d="M41.5,161.3L40.2,170.2L37.2,177.5L30.6,186.7L30.3,190.2L32.7,195.2L33.4,205.1L31.6,214.7L34.6,224.0L36.9,228.3L35.7,233.5L41.6,239.0L40.1,244.1L39.8,249.9L44.0,255.4L46.0,258.7L43.2,261.6L42.2,266.8L46.1,276.2L47.2,280.2L51.8,286.6L50.8,288.5L53.5,292.0L52.3,295.3L51.1,300.9L53.0,303.8L63.6,307.5L68.6,311.2L70.7,314.9L74.5,317.7L78.8,318.4L79.1,323.4L81.9,324.1L85.6,327.7L87.8,330.8L91.1,336.2L91.4,342.6L91.1,345.8L92.4,348.7L128.0,353.1L132.2,349.0L133.6,338.5L135.3,333.5L141.9,327.6L138.9,323.4L137.3,316.8L137.4,314.1L80.5,228.0L94.3,176.8Z"/>
<path d="M94.3,176.8L80.5,228.0L137.4,314.1L139.0,310.8L139.3,303.7L139.7,298.4L139.5,296.2L144.7,294.9L149.8,295.0L152.5,281.2L170.0,194.6L131.9,186.3Z"/>
<path d="M159.8,66.8L171.1,69.4L167.3,86.4L169.3,96.6L173.3,101.1L176.5,106.2L178.6,111.1L182.4,113.7L179.6,121.2L177.8,127.1L176.1,132.1L178.9,133.9L183.9,131.2L185.6,138.5L187.6,144.8L189.2,147.9L191.4,154.8L200.4,154.5L210.3,156.4L211.1,153.7L212.3,153.2L215.6,158.6L208.5,201.7L170.0,194.6L131.9,186.3L139.3,154.9L141.6,150.6L140.6,148.0L139.0,145.5L139.9,142.9L142.7,139.1L145.9,136.2L146.8,133.7L149.6,130.4L153.1,126.2L152.7,123.4L150.4,121.1L149.3,118.1L149.1,116.6L150.0,115.2L149.6,110.4Z"/>
<path d="M217.1,149.5L303.8,160.6L297.6,230.8L205.6,219.1Z"/>
<path d="M170.0,194.6L208.5,201.7L205.6,219.1L231.8,223.2L221.7,293.1L152.5,281.2Z"/>
<path d="M152.5,281.2L221.7,293.1L207.4,391.9L177.3,387.2L125.8,356.8L128.0,353.1L132.2,349.0L133.6,338.5L135.3,333.5L141.9,327.6L138.9,323.4L137.3,316.8L137.4,314.1L139.0,310.8L139.3,303.7L139.7,298.4L139.5,296.2L144.7,294.9L149.8,295.0Z"/>
<path d="M221.7,293.1L306.0,302.4L304.8,311.2L298.4,390.1L245.3,385.0L246.2,389.0L221.1,385.8L220.0,393.6L207.4,391.9Z"/>
<path d="M300.7,195.7L372.0,199.8L380.3,202.6L386.1,202.4L391.3,204.2L395.1,207.2L398.3,209.2L399.0,212.6L400.9,217.9L402.9,223.2L405.1,230.9L406.2,235.5L406.8,240.8L407.2,242.9L410.2,247.9L413.4,253.2L322.9,250.5L324.0,232.9L297.6,230.8Z"/>
<path d="M306.0,302.4L423.5,306.0L423.7,314.9L426.7,334.2L426.5,365.2L424.8,363.6L418.8,360.6L413.7,359.6L409.7,360.6L404.7,360.6L399.6,363.6L394.6,360.6L390.5,359.6L387.5,363.6L384.5,360.6L379.4,359.6L373.4,357.6L366.3,356.6L360.3,355.6L354.2,351.5L346.2,347.9L347.7,313.8L304.8,311.2Z"/>
<path d="M304.8,311.2L347.7,313.8L346.2,347.9L354.2,351.5L360.3,355.6L366.3,356.6L373.4,357.6L379.4,359.6L384.5,360.6L387.5,363.6L390.5,359.6L394.6,360.6L399.6,363.6L404.7,360.6L409.7,360.6L413.7,359.6L418.8,360.6L424.8,363.6L426.5,365.2L433.0,366.7L433.2,376.0L433.6,393.9L435.7,397.4L440.5,407.8L441.4,411.3L439.3,418.3L438.6,423.6L439.5,427.9L437.4,433.4L431.7,436.1L425.4,437.6L422.8,434.3L419.6,436.1L421.6,440.6L416.5,445.7L406.5,452.0L396.4,458.3L390.1,462.1L386.3,462.8L388.3,465.3L383.8,469.6L381.2,475.9L378.2,477.9L381.7,479.7L382.5,488.5L383.8,496.1L385.0,501.1L380.0,502.4L371.1,497.4L362.3,494.8L354.8,493.1L351.0,483.5L347.2,473.4L340.9,464.6L337.1,457.0L332.1,445.7L327.0,436.8L320.7,431.8L306.8,429.3L300.5,431.8L296.7,438.1L293.0,442.6L281.6,434.3L271.5,423.0L269.0,414.1L261.4,405.3L253.9,396.5L246.2,389.0L245.3,385.0L298.4,390.1Z"/>
<path d="M389.8,95.0L414.1,95.1L414.1,88.5L418.2,89.5L419.4,96.7L420.6,99.8L427.7,100.9L434.8,101.6L439.5,101.1L446.9,107.3L451.6,106.2L458.9,109.9L466.6,109.0L475.5,108.4L481.6,109.6L480.3,110.2L471.9,114.8L461.2,123.2L456.5,128.4L451.5,133.0L452.5,134.0L449.3,135.0L449.7,145.3L444.2,149.4L442.7,152.9L445.7,157.2L444.5,159.0L444.1,163.4L444.3,168.7L450.7,172.0L454.5,174.5L459.2,180.4L464.5,184.6L465.2,189.8L398.4,191.4L398.6,159.7L393.7,153.6L397.3,148.5L396.8,142.2L394.7,132.0L394.0,121.2L391.6,114.2L390.6,103.7Z"/>
<path d="M398.4,191.4L465.2,189.8L465.6,192.4L466.5,197.7L468.1,202.9L473.6,206.8L480.4,213.7L480.3,218.3L478.9,219.9L475.4,224.2L469.4,226.3L471.0,231.9L469.3,237.3L466.8,240.4L465.7,244.9L461.1,241.1L407.2,242.9L406.8,240.8L406.2,235.5L405.1,230.9L402.9,223.2L400.9,217.9L399.0,212.6L398.3,209.2L397.7,200.2L396.5,194.9Z"/>
<path d="M407.2,242.9L461.1,241.1L465.7,244.9L464.5,248.2L465.8,252.9L467.0,256.9L471.2,260.2L476.1,263.5L479.2,269.5L484.1,270.4L483.9,274.9L484.1,282.5L489.3,287.4L494.5,292.4L494.9,297.7L500.5,302.9L498.6,309.8L495.5,311.8L494.8,315.4L493.7,320.7L484.2,321.4L486.8,312.4L423.7,314.9L423.5,306.0L423.1,268.8L419.1,265.5L416.3,260.9L419.0,257.5L417.6,254.9L413.4,253.2L410.2,247.9L407.2,242.9Z"/>
<path d="M433.2,376.0L475.8,374.8L477.0,381.7L480.3,386.5L476.1,392.3L473.5,400.4L471.5,404.9L470.5,410.2L499.3,408.5L497.9,414.4L501.1,417.1L504.4,422.1L500.8,422.9L499.8,425.5L503.8,424.5L505.8,427.5L501.8,431.5L504.8,435.6L511.9,438.6L510.9,441.6L506.9,441.6L499.8,436.2L496.8,438.6L493.7,443.0L489.7,439.6L485.7,442.6L479.6,441.6L475.6,437.6L470.5,435.6L469.5,432.1L464.5,433.0L463.5,435.6L453.4,435.0L442.3,433.6L437.4,433.4L439.5,427.9L438.6,423.6L439.3,418.3L441.4,411.3L440.5,407.8L435.7,397.4L433.6,393.9L433.2,376.0Z"/>
<path d="M486.3,338.9L516.5,336.7L517.1,391.3L523.0,419.4L519.0,418.4L510.9,419.4L504.4,422.1L501.1,417.1L497.9,414.4L499.3,408.5L470.5,410.2L471.5,404.9L473.5,400.4L476.1,392.3L480.3,386.5L477.0,381.7L475.8,374.8L476.3,367.7L475.2,360.7L478.4,353.5L482.8,347.6L486.5,341.5Z"/>
<path d="M516.5,336.7L553.7,333.3L564.2,369.5L568.0,376.1L568.0,384.4L568.1,391.4L570.8,401.7L531.6,405.9L533.2,410.5L534.6,416.6L531.1,417.4L530.3,415.2L529.3,418.0L527.0,418.4L523.0,419.4L517.1,391.3Z"/>
<path d="M493.7,320.7L494.8,315.4L495.5,311.8L516.3,310.1L515.8,307.0L577.5,301.5L605.4,297.6L605.8,301.8L602.2,306.5L596.8,308.6L590.0,311.4L585.7,316.4L582.5,319.2L575.8,323.1L575.3,325.5L572.1,330.9L553.7,333.3L516.5,336.7L486.3,338.9L489.0,336.4L489.4,331.6L491.3,327.1L493.8,322.5Z"/>
<path d="M452.5,134.0L462.3,130.7L466.5,129.1L468.0,134.2L473.0,134.3L479.8,137.3L491.3,140.9L502.0,144.2L505.2,147.4L506.9,151.5L509.3,155.6L507.1,161.2L505.0,165.8L504.6,168.5L507.5,165.6L510.3,161.8L512.4,157.2L515.8,154.2L514.5,159.7L512.3,163.4L511.7,167.0L511.0,169.7L510.9,175.0L509.7,176.0L509.6,182.2L508.0,188.5L508.2,195.1L510.2,200.2L510.1,202.9L510.4,204.4L473.6,206.8L468.1,202.9L466.5,197.7L465.6,192.4L465.2,189.8L464.5,184.6L459.2,180.4L454.5,174.5L450.7,172.0L444.3,168.7L444.1,163.4L444.5,159.0L445.7,157.2L442.7,152.9L444.2,149.4L449.7,145.3L449.3,135.0Z"/>
<path d="M473.6,206.8L510.4,204.4L514.0,215.5L515.3,217.8L519.0,259.3L518.4,263.8L520.1,271.1L517.5,276.3L515.1,280.1L514.2,285.5L514.6,287.2L513.4,289.1L513.2,293.2L509.4,294.8L509.1,300.1L505.9,299.5L502.0,298.9L500.5,302.9L494.9,297.7L494.5,292.4L489.3,287.4L484.1,282.5L483.9,274.9L484.1,270.4L479.2,269.5L476.1,263.5L471.2,260.2L467.0,256.9L465.8,252.9L464.5,248.2L465.7,244.9L466.8,240.4L469.3,237.3L471.0,231.9L469.4,226.3L475.4,224.2L478.9,219.9L480.3,218.3L480.4,213.7Z"/>
<path d="M515.3,217.8L519.6,218.8L524.3,216.1L550.6,214.2L556.1,259.8L555.7,263.4L551.8,267.4L549.3,267.0L548.7,270.4L546.5,275.1L545.0,275.8L543.6,280.8L537.9,278.8L535.5,282.9L527.5,286.4L520.7,283.7L516.3,285.3L514.6,287.2L514.2,285.5L515.1,280.1L517.5,276.3L520.1,271.1L518.4,263.8L519.0,259.3Z"/>
<path d="M550.6,214.2L568.2,211.3L574.4,212.8L578.2,213.3L578.7,214.8L584.0,214.4L585.4,213.5L591.6,212.0L596.1,206.8L602.1,203.1L605.5,201.1L609.5,224.4L609.0,229.5L608.5,234.8L607.5,240.7L606.3,244.5L600.7,247.9L599.6,250.6L597.6,254.3L597.7,256.6L594.4,255.9L593.0,259.3L592.8,263.6L589.9,267.3L587.9,267.9L587.1,266.6L581.6,263.0L577.8,265.5L571.4,265.8L565.2,264.0L560.4,259.2L556.1,259.8Z"/>
<path d="M577.5,301.5L605.4,297.6L686.6,284.1L682.8,276.8L678.4,276.5L676.5,267.8L675.9,260.9L665.8,257.5L660.5,255.9L661.5,250.3L661.7,247.5L659.0,245.0L654.4,243.3L650.7,240.4L650.0,244.0L642.0,239.8L637.3,253.0L633.4,258.9L627.4,258.4L626.3,264.0L621.9,278.6L614.5,281.3L609.7,284.7L603.7,287.0L598.8,281.7L596.1,287.4L591.2,292.4L585.9,297.7Z"/>
<path d="M682.8,273.3L683.6,258.1L688.8,255.5L686.1,265.7Z"/>
<path d="M572.1,330.9L575.3,325.5L575.8,323.1L582.5,319.2L585.7,316.4L590.0,311.4L596.8,308.6L602.2,306.5L605.8,301.8L605.4,297.6L686.6,284.1L685.4,287.8L682.4,290.4L678.9,292.4L675.5,294.1L679.4,294.4L683.4,292.4L686.9,293.4L689.2,295.9L690.0,299.4L687.9,302.5L685.9,304.0L684.0,318.6L672.3,322.9L667.6,329.2L666.4,335.7L658.0,337.2L638.8,324.0L623.0,326.4L620.2,321.8L618.8,323.1L618.5,321.2L599.0,323.4L589.4,328.4Z"/>
<path d="M589.4,328.4L599.0,323.4L618.5,321.2L618.8,323.1L620.2,321.8L623.0,326.4L638.8,324.0L658.0,337.2L653.6,341.3L650.8,350.4L649.3,354.3L642.0,360.0L635.5,365.6L631.9,371.6L629.9,374.9L625.3,372.7L620.5,366.4L617.9,359.7L610.1,352.5L605.0,348.3L599.2,344.7L595.5,339.1L594.5,337.4L590.5,335.3L586.7,334.1Z"/>
<path d="M553.7,333.3L572.1,330.9L589.4,328.4L586.7,334.1L590.5,335.3L594.5,337.4L595.5,339.1L599.2,344.7L605.0,348.3L610.1,352.5L617.9,359.7L620.5,366.4L625.3,372.7L629.9,374.9L626.6,384.9L624.7,392.3L624.3,398.3L616.5,403.6L614.8,406.8L613.3,403.8L573.6,406.7L570.8,401.7L568.1,391.4L568.0,384.4L568.0,376.1L564.2,369.5Z"/>
<path d="M605.5,201.1L610.4,197.2L614.3,194.4L615.2,199.0L671.5,187.5L676.2,190.0L677.0,193.5L679.6,195.6L682.5,196.5L678.5,204.5L678.7,209.4L681.9,214.1L686.3,216.7L682.8,222.9L679.4,225.5L674.9,228.0L612.2,240.4Z"/>
<path d="M90.4,55.2L92.0,54.6L92.6,56.2L91.0,57.0Z"/>
<path d="M92.8,58.2L94.2,57.8L94.4,59.6L93.2,60.0Z"/>
<path d="M93.6,61.8L94.6,62.6L94.4,66.2L93.4,68.6L93.0,65.6Z"/>
</g>
<g fill="#FEFA5D" stroke="#0c0c02" stroke-width="0.9" stroke-linejoin="round">
<path d="M490.6,423.8L492.4,422.0L496.0,421.6L499.4,422.4L499.8,424.2L497.0,425.4L493.0,425.4Z"/>
<path d="M43.2,238.6L44.6,234.6L46.0,233.6L46.4,235.2L45.2,237.2L45.6,239.4L47.0,243.2L46.0,243.6L44.4,240.6Z"/>
</g>
<g fill="none" stroke="#0c0c02" stroke-width="1.2" stroke-linejoin="round" stroke-linecap="round">
<path d="M685.9,284.8L689.5,289.2L693.5,294.9"/>
<path d="M684.5,286.6L688.0,289.5L691.0,291.5"/>
</g>
<circle cx="670.8" cy="253.3" r="34.3" fill="#F7B332"/>
<circle cx="623.1" cy="276.6" r="33.0" fill="#D12318"/>
<circle cx="111.3" cy="77.0" r="12.2" fill="#D12318"/>
<circle cx="130.2" cy="97.8" r="11.8" fill="#F4A128"/>
<circle cx="74.0" cy="122.5" r="15.6" fill="#D12318"/>
<circle cx="102.7" cy="155.3" r="17.0" fill="#F4A128"/>
<circle cx="160.2" cy="156.0" r="13.6" fill="#D12318"/>
<circle cx="233.3" cy="198.7" r="10.0" fill="#D12318"/>
<circle cx="61.6" cy="250.7" r="14.2" fill="#D12318"/>
<circle cx="165.5" cy="319.3" r="14.5" fill="#D12318"/>
<circle cx="180.0" cy="349.1" r="14.7" fill="#F4A128"/>
<circle cx="267.3" cy="350.7" r="12.1" fill="#D12318"/>
<circle cx="358.0" cy="226.4" r="12.2" fill="#D12318"/>
<circle cx="374.0" cy="330.5" r="10.0" fill="#D12318"/>
<circle cx="340.4" cy="391.7" r="15.8" fill="#D12318"/>
<circle cx="367.5" cy="417.8" r="11.7" fill="#F4A128"/>
<circle cx="455.5" cy="412.9" r="12.1" fill="#D12318"/>
<circle cx="418.7" cy="144.9" r="13.9" fill="#D12318"/>
<circle cx="480.1" cy="173.6" r="9.6" fill="#D12318"/>
<circle cx="445.5" cy="208.3" r="15.6" fill="#D12318"/>
<circle cx="492.8" cy="218.2" r="11.6" fill="#F4A128"/>
<circle cx="533.6" cy="209.9" r="18.9" fill="#D12318"/>
<circle cx="493.0" cy="251.0" r="14.4" fill="#D12318"/>
<circle cx="445.2" cy="274.2" r="13.7" fill="#D12318"/>
<circle cx="464.3" cy="293.1" r="11.6" fill="#F4A128"/>
<circle cx="540.0" cy="243.6" r="14.7" fill="#F4A128"/>
<circle cx="586.0" cy="231.4" r="14.4" fill="#D12318"/>
<circle cx="637.9" cy="203.1" r="19.1" fill="#D12318"/>
<circle cx="516.0" cy="318.3" r="23.2" fill="#F4A128"/>
<circle cx="560.9" cy="316.1" r="18.6" fill="#D12318"/>
<circle cx="674.0" cy="321.6" r="20.2" fill="#D12318"/>
<circle cx="628.1" cy="345.7" r="13.6" fill="#D12318"/>
<circle cx="610.6" cy="334.9" r="11.3" fill="#F4A128"/>
<circle cx="585.5" cy="362.6" r="15.9" fill="#D12318"/>
<text transform="translate(670.8,258.6) scale(0.80,1)" font-size="14.6" text-anchor="middle" class="n">12k</text>
<text transform="translate(623.1,281.9) scale(0.80,1)" font-size="14.6" text-anchor="middle" class="n">42</text>
<text transform="translate(111.3,82.3) scale(0.80,1)" font-size="14.6" text-anchor="middle" class="n">3</text>
<text transform="translate(130.2,103.1) scale(0.80,1)" font-size="14.6" text-anchor="middle" class="n">.3k</text>
<text transform="translate(74.0,127.8) scale(0.80,1)" font-size="14.6" text-anchor="middle" class="n">6</text>
<text transform="translate(102.7,160.6) scale(0.80,1)" font-size="14.6" text-anchor="middle" class="n">3.6k</text>
<text transform="translate(160.2,161.3) scale(0.80,1)" font-size="14.6" text-anchor="middle" class="n">4</text>
<text transform="translate(233.3,204.0) scale(0.80,1)" font-size="14.6" text-anchor="middle" class="n">1</text>
<text transform="translate(61.6,256.0) scale(0.80,1)" font-size="14.6" text-anchor="middle" class="n">5</text>
<text transform="translate(165.5,324.6) scale(0.80,1)" font-size="14.6" text-anchor="middle" class="n">5</text>
<text transform="translate(180.0,354.4) scale(0.80,1)" font-size="14.6" text-anchor="middle" class="n">3.3k</text>
<text transform="translate(267.3,356.0) scale(0.80,1)" font-size="14.6" text-anchor="middle" class="n">1</text>
<text transform="translate(358.0,231.7) scale(0.80,1)" font-size="14.6" text-anchor="middle" class="n">3</text>
<text transform="translate(374.0,335.8) scale(0.80,1)" font-size="14.6" text-anchor="middle" class="n">2</text>
<text transform="translate(340.4,397.0) scale(0.80,1)" font-size="14.6" text-anchor="middle" class="n">6</text>
<text transform="translate(367.5,423.1) scale(0.80,1)" font-size="14.6" text-anchor="middle" class="n">.3k</text>
<text transform="translate(455.5,418.2) scale(0.80,1)" font-size="14.6" text-anchor="middle" class="n">3</text>
<text transform="translate(418.7,150.2) scale(0.80,1)" font-size="14.6" text-anchor="middle" class="n">4</text>
<text transform="translate(480.1,178.9) scale(0.80,1)" font-size="14.6" text-anchor="middle" class="n">1</text>
<text transform="translate(445.5,213.6) scale(0.80,1)" font-size="14.6" text-anchor="middle" class="n">6</text>
<text transform="translate(492.8,223.5) scale(0.80,1)" font-size="14.6" text-anchor="middle" class="n">1k</text>
<text transform="translate(533.6,215.2) scale(0.80,1)" font-size="14.6" text-anchor="middle" class="n">7</text>
<text transform="translate(493.0,256.3) scale(0.80,1)" font-size="14.6" text-anchor="middle" class="n">5</text>
<text transform="translate(445.2,279.5) scale(0.80,1)" font-size="14.6" text-anchor="middle" class="n">4</text>
<text transform="translate(464.3,298.4) scale(0.80,1)" font-size="14.6" text-anchor="middle" class="n">.3k</text>
<text transform="translate(540.0,248.9) scale(0.80,1)" font-size="14.6" text-anchor="middle" class="n">1.7k</text>
<text transform="translate(586.0,236.7) scale(0.80,1)" font-size="14.6" text-anchor="middle" class="n">5</text>
<text transform="translate(637.9,208.4) scale(0.80,1)" font-size="14.6" text-anchor="middle" class="n">7</text>
<text transform="translate(516.0,323.6) scale(0.80,1)" font-size="14.6" text-anchor="middle" class="n">9k</text>
<text transform="translate(560.9,321.4) scale(0.80,1)" font-size="14.6" text-anchor="middle" class="n">7</text>
<text transform="translate(674.0,326.9) scale(0.80,1)" font-size="14.6" text-anchor="middle" class="n">9</text>
<text transform="translate(628.1,351.0) scale(0.80,1)" font-size="14.6" text-anchor="middle" class="n">4</text>
<text transform="translate(610.6,340.2) scale(0.80,1)" font-size="14.6" text-anchor="middle" class="n">.1k</text>
<text transform="translate(585.5,367.9) scale(0.80,1)" font-size="14.6" text-anchor="middle" class="n">6</text>
<circle cx="71.2" cy="584" r="11.5" fill="#F4A128"/>
<circle cx="71" cy="618" r="12.1" fill="#D12318"/>
<g class="lt">
<text transform="translate(95.6,587.8) scale(0.885,1)">Number of petition signatures, 000&#39;</text>
<text transform="translate(97.4,623.4) scale(0.885,1)">Number of activist groups</text>
<text transform="translate(521,589.2) scale(0.885,1)">States with large data center projects</text>
<text transform="translate(521,605.3) scale(0.885,1)">(50MW&gt;) in the pipeline for Alphabet,</text>
<text transform="translate(521,621.4) scale(0.885,1)">Amazon, Meta and Microsoft</text>
</g>
<rect x="476.8" y="592" width="32.6" height="15.6" rx="6.5" ry="6.5" fill="#5A5920" stroke="#0c0c02" stroke-width="1"/>
</svg>
</body></html>
